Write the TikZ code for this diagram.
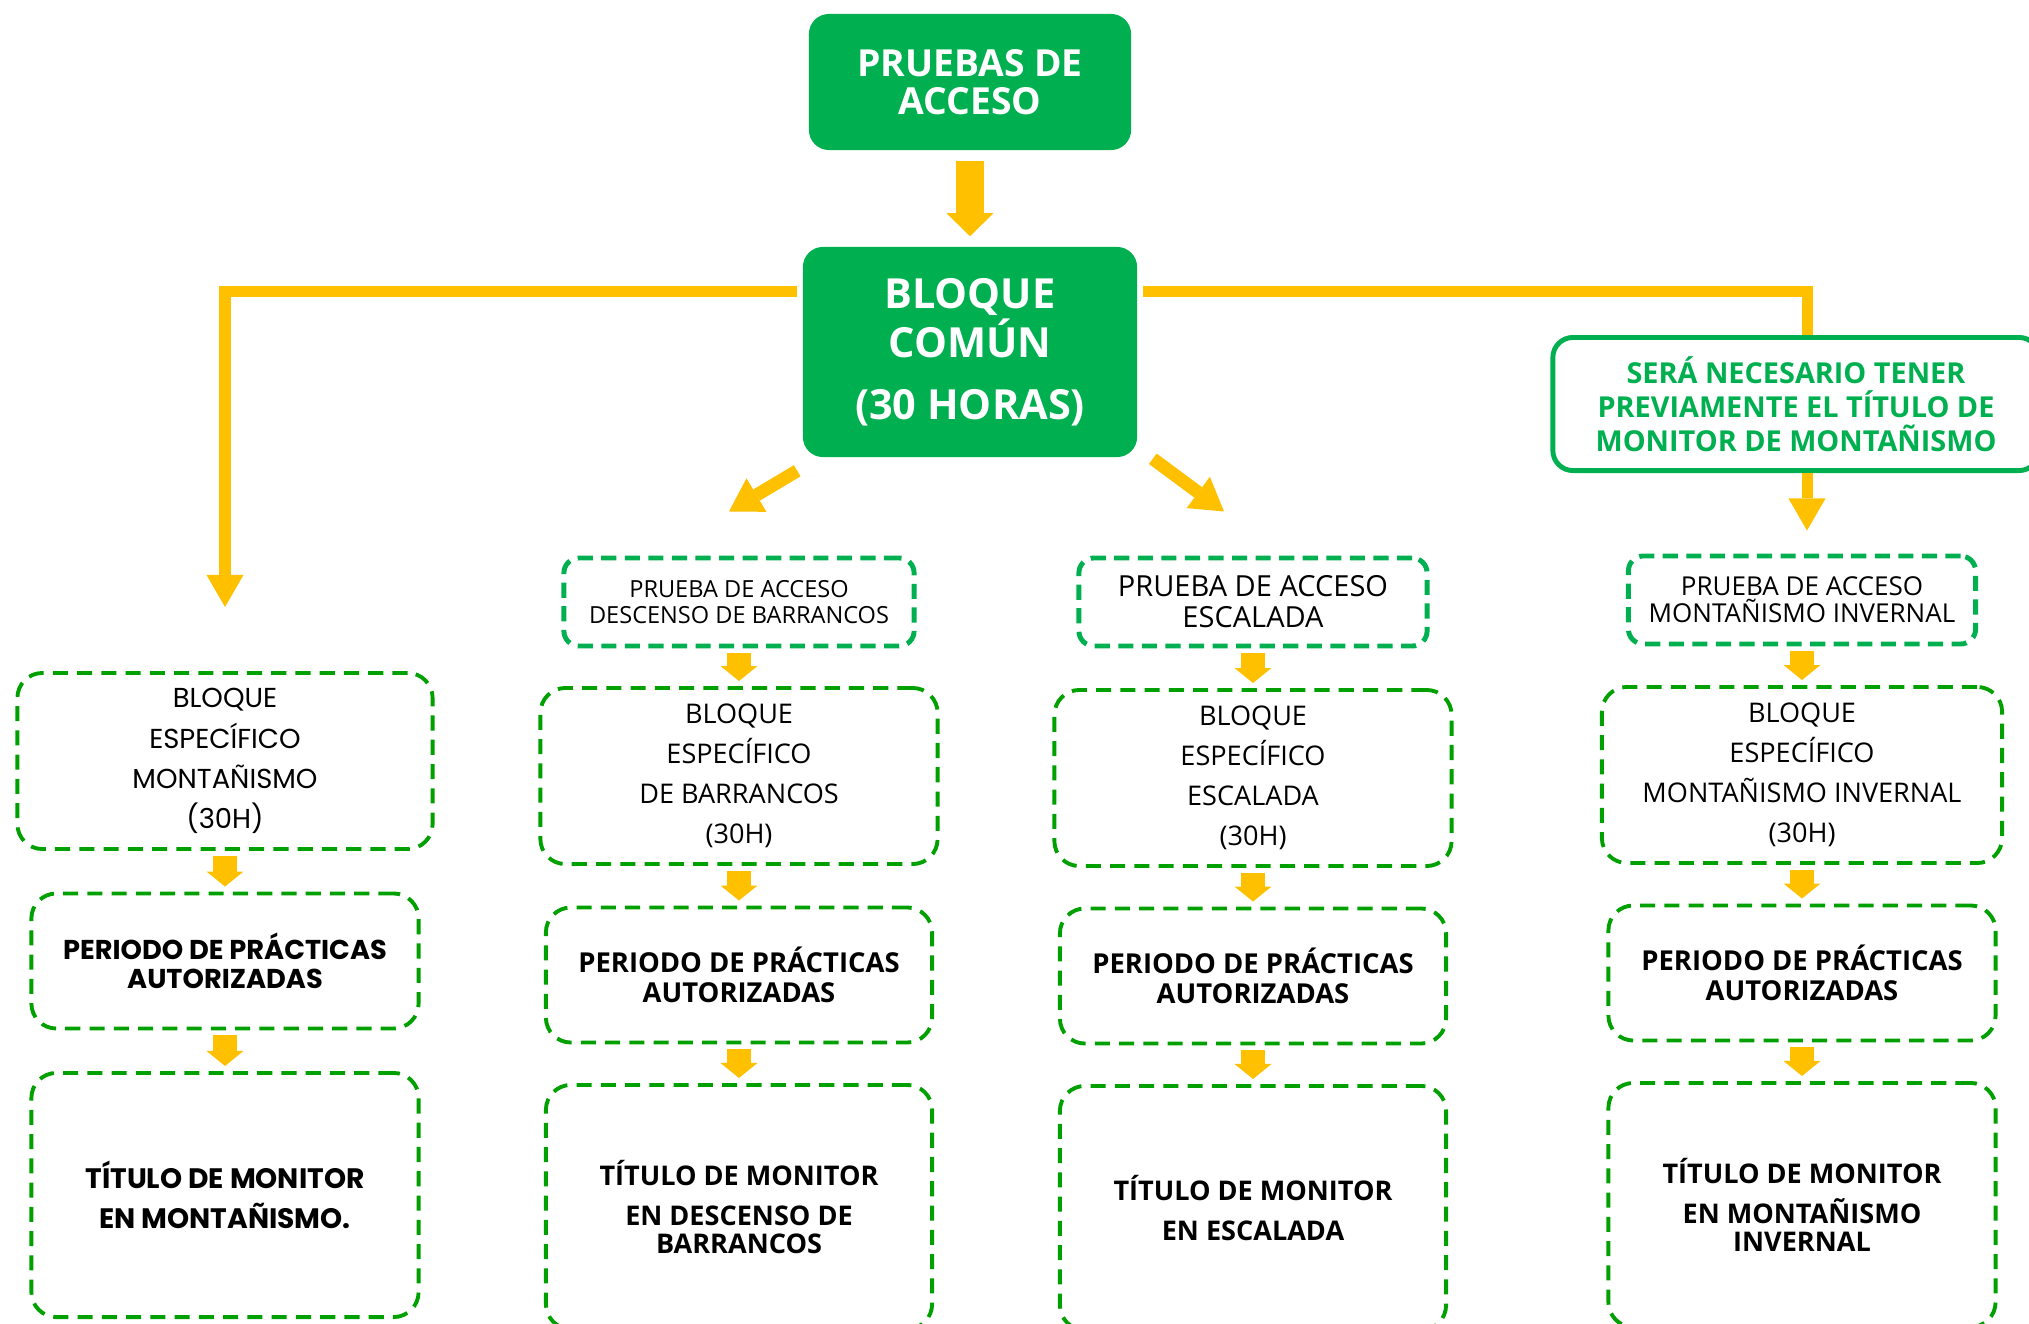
\documentclass[tikz,border=0pt]{standalone}
\usepackage{fontspec}
\setmainfont{Open Sans}
\newfontfamily\gothicfont{Poppins}
\usetikzlibrary{arrows.meta}

\definecolor{boxgreen}{RGB}{0,176,80}
\definecolor{dashgreen}{RGB}{0,160,0}
\definecolor{arrowyellow}{RGB}{255,192,0}

\def\colA{225}
\def\colB{739}
\def\colC{1253}
\def\colD{1802}

\begin{document}
\begin{tikzpicture}[x=0.01cm,y=-0.01cm]
    \tikzstyle{every node}=[align=center,inner sep=0pt]
    \tikzstyle{solid box}=[rectangle,rounded corners=0.2cm,fill=boxgreen,text=white]
    \tikzstyle{note box}=[rectangle,rounded corners=0.2cm,draw=boxgreen,line width=1.4pt,text=boxgreen,
        font=\bfseries\fontsize{8.2}{9.6}\selectfont]
    \tikzstyle{test box}=[rectangle,rounded corners=0.15cm,draw=boxgreen,line width=1.4pt,
        dash pattern=on 4.3pt off 2.4pt,minimum height=0.88cm]
    \tikzstyle{stage box}=[rectangle,rounded corners=0.25cm,draw=dashgreen,line width=1.1pt,
        dash pattern=on 4.3pt off 2.6pt]
    \tikzstyle{block}=[stage box,minimum height=1.76cm,font=\fontsize{7.7}{11.4}\selectfont]
    \tikzstyle{period}=[stage box,minimum height=1.35cm,font=\bfseries\fontsize{7.8}{8.5}\selectfont]
    \tikzstyle{title}=[stage box,minimum height=2.44cm,font=\bfseries\fontsize{7.7}{8.1}\selectfont]
    \tikzstyle{big arrow}=[color=arrowyellow,line width=0.28cm,
        -{Triangle[width=0.47cm,length=0.23cm,line width=0pt]}]
    \tikzstyle{side line}=[color=arrowyellow,line width=0.11cm]
    \tikzstyle{side arrow}=[side line,-{Triangle[width=0.37cm,length=0.32cm,line width=0pt]}]
    \tikzstyle{slant arrow}=[color=arrowyellow,line width=0.13cm,
        -{Triangle[width=0.39cm,length=0.32cm,line width=0pt]}]
    \tikzstyle{small arrow}=[color=arrowyellow,line width=0.24cm,shorten <=0.05cm,shorten >=0.05cm,
        -{Triangle[width=0.37cm,length=0.15cm,line width=0pt]}]

    \useasboundingbox (0,0) rectangle (2029,1324);

    % Draw the common part
    \node[solid box,minimum width=3.22cm,minimum height=1.36cm,font=\bfseries\fontsize{10.6}{10.7}\selectfont]
        (acc) at (970,82) {PRUEBAS DE\\ACCESO};
    \node[solid box,minimum width=3.34cm,minimum height=2.10cm,font=\bfseries\fontsize{11.8}{12.2}\selectfont]
        (common) at (970,352) {BLOQUE\\COMÚN\\[5.4pt](30 HORAS)};
    \node[note box,minimum width=4.86cm,minimum height=1.33cm] (note) at (1796,404)
        {SERÁ NECESARIO TENER\\PREVIAMENTE EL TÍTULO DE\\MONITOR DE MONTAÑISMO};

    % Draw the access tests
    \node[test box,minimum width=3.50cm,font=\fontsize{6.7}{7.4}\selectfont] (pb) at (\colB,602)
        {PRUEBA DE ACCESO\\DESCENSO DE BARRANCOS};
    \node[test box,minimum width=3.48cm,font=\fontsize{8.25}{8.8}\selectfont] (pe) at (\colC,602)
        {PRUEBA DE ACCESO\\ESCALADA};
    \node[test box,minimum width=3.47cm,font=\fontsize{7.4}{7.7}\selectfont] (pmi) at (\colD,600)
        {PRUEBA DE ACCESO\\MONTAÑISMO INVERNAL};

    % Draw the specific blocks
    \node[block,minimum width=4.15cm,font=\gothicfont\fontsize{7.8}{11.4}\selectfont] (b1) at (\colA,761)
        {BLOQUE\\ESPECÍFICO\\MONTAÑISMO\\(30H)};
    \node[block,minimum width=3.97cm] (b2) at (\colB,776) {BLOQUE\\ESPECÍFICO\\DE BARRANCOS\\(30H)};
    \node[block,minimum width=3.97cm] (b3) at (\colC,778) {BLOQUE\\ESPECÍFICO\\ESCALADA\\(30H)};
    \node[block,minimum width=4.00cm] (b4) at (\colD,775) {BLOQUE\\ESPECÍFICO\\MONTAÑISMO INVERNAL\\(30H)};

    % Draw the practice periods
    \node[period,minimum width=3.87cm,font=\gothicfont\bfseries\fontsize{7.75}{8.1}\selectfont] (p1) at (\colA,961)
        {PERIODO DE PRÁCTICAS\\AUTORIZADAS};
    \node[period,minimum width=3.86cm] (p2) at (\colB,975) {PERIODO DE PRÁCTICAS\\AUTORIZADAS};
    \node[period,minimum width=3.86cm] (p3) at (\colC,976) {PERIODO DE PRÁCTICAS\\AUTORIZADAS};
    \node[period,minimum width=3.87cm] (p4) at (\colD,973) {PERIODO DE PRÁCTICAS\\AUTORIZADAS};

    % Draw the titles
    \node[title,minimum width=3.87cm,font=\gothicfont\bfseries\fontsize{8}{11.4}\selectfont] (t1) at (\colA,1195)
        {TÍTULO DE MONITOR\\EN MONTAÑISMO.};
    \node[title,minimum width=3.86cm] (t2) at (\colB,1207) {TÍTULO DE MONITOR\\[3.3pt]EN DESCENSO DE\\BARRANCOS};
    \node[title,minimum width=3.86cm,font=\bfseries\fontsize{7.7}{11.4}\selectfont] (t3) at (\colC,1208)
        {TÍTULO DE MONITOR\\EN ESCALADA};
    \node[title,minimum width=3.87cm] (t4) at (\colD,1205) {TÍTULO DE MONITOR\\[3.3pt]EN MONTAÑISMO\\INVERNAL};

    % Connect the common part
    \draw[big arrow,shorten <=0.1cm,shorten >=0.1cm] (acc) -- (common);
    \draw[side arrow,shorten <=0.05cm,shorten >=0.64cm] ([yshift=0.6cm]common.west) -| (b1.north);
    \draw[side line,shorten <=0.05cm] ([yshift=0.6cm]common.east) -| ([xshift=0.05cm]note.north -| pmi.north);
    \draw[side arrow,shorten >=0.23cm] ([xshift=0.05cm]note.south -| pmi.north) -- ([xshift=0.05cm]pmi.north);
    \draw[slant arrow] ([xshift=-0.05cm,yshift=-0.13cm]common.south west)
        -- ([xshift=-0.1cm,yshift=0.44cm]pb.north);
    \draw[slant arrow] ([xshift=0.15cm,yshift=-0.01cm]common.south east)
        -- ([xshift=-0.29cm,yshift=0.44cm]pe.north);

    % Connect every box with the next one in its column
    \path[small arrow] (b1) edge (p1) (p1) edge (t1);
    \path[small arrow] (pb) edge (b2) (b2) edge (p2) (p2) edge (t2);
    \path[small arrow] (pe) edge (b3) (b3) edge (p3) (p3) edge (t3);
    \path[small arrow] (pmi) edge (b4) (b4) edge (p4) (p4) edge (t4);
\end{tikzpicture}
\end{document}
